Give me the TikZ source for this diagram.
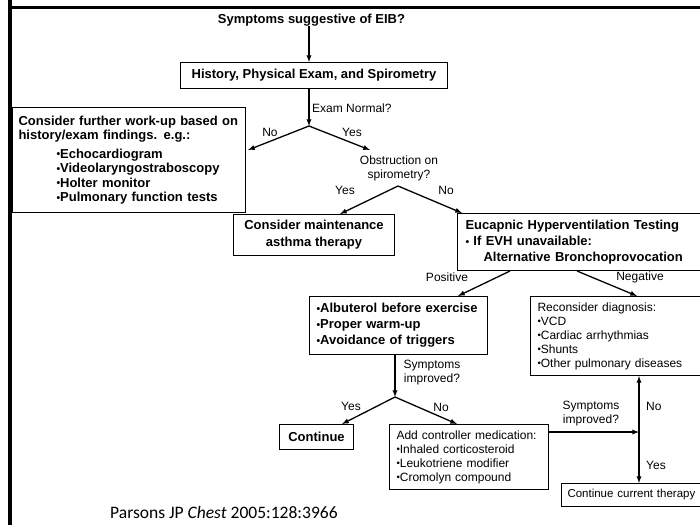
\documentclass[tikz,border=0pt]{standalone}
\usepackage{fontspec}
\setmainfont{Liberation Sans}
\newfontfamily\citefont{Carlito}
\tikzset{>=latex}
\newcommand{\bu}{\raisebox{.05ex}{\scalebox{.8}{\textbullet}}}
\tikzset{
    box/.style={draw, line width=1pt, anchor=north west, align=left, inner xsep=6, inner ysep=0},
    bl/.style={font=\fontsize{13}{16}\selectfont\bfseries},
    rg/.style={font=\fontsize{12}{14}\selectfont},
    lab/.style={font=\fontsize{12}{14}\selectfont, inner sep=0},
    arr/.style={->, line width=1.3pt}
}

\begin{document}
\begin{tikzpicture}[x=1pt, y=-1pt]
    \useasboundingbox (0,0) rectangle (700,525);
    \draw[line width=4](10,0)--(10,525);
    \draw[line width=3](8,7.5)--(700,7.5);
    \node[bl, inner sep=0](sym)at(311.5,20){Symptoms suggestive of EIB?};
    \node[box, bl, align=center, minimum width=267, minimum height=26](hist)at(180,62){History, Physical Exam, and Spirometry};
    \coordinate(b1)at(309,126);
    \draw[arr](b1 |- sym.south)--(b1 |- hist.north);
    \draw[arr](b1 |- hist.south)--(b1);
    \node[lab, anchor=west](exam)at(312,108){Exam Normal?};
    \node[box, bl, font=\fontsize{13}{14.5}\selectfont\bfseries, text width=221, minimum height=105](work)at(12,107){Consider further work-up based on\\history/exam findings. e.g.:\\[4pt]
        \hspace*{38pt}\bu Echocardiogram\\\hspace*{38pt}\bu Videolaryngostraboscopy\\\hspace*{38pt}\bu Holter monitor\\\hspace*{38pt}\bu Pulmonary function tests};
    \coordinate(noW)at(248,150);
    \coordinate(yesE)at(370,150);
    \draw[arr](b1)--(noW);
    \draw[arr](b1)--(yesE);
    \node[lab](no1)at(270,132){No};
    \node[lab](yes1)at(352,132){Yes};
    \node[lab, align=center](obs)at(399,168){Obstruction on\\spirometry?};
    \coordinate(b2)at(398,186);
    \node[box, bl, font=\fontsize{13}{17}\selectfont\bfseries, align=center, minimum width=161, minimum height=41](maint)at(233,214){Consider maintenance\\asthma therapy};
    \node[box, bl, text width=232, minimum height=57, inner xsep=8](evh)at(457,213){Eucapnic Hyperventilation Testing\\\bu{} If EVH unavailable:\\\hspace*{18pt}Alternative Bronchoprovocation};
    \draw[arr](b2)--([xshift=107]maint.north west);
    \draw[arr](b2)--([xshift=5]evh.north west);
    \node[lab](yes2)at(345,190){Yes};
    \node[lab](no2)at(446,190){No};
    \node[box, bl, text width=164, minimum height=58, inner xsep=7](alb)at(309,296){\bu Albuterol before exercise\\\bu Proper warm-up\\\bu Avoidance of triggers};
    \node[box, rg, text width=163, minimum height=79, inner xsep=7](rec)at(530,296){Reconsider diagnosis:\\\bu VCD\\\bu Cardiac arrhythmias\\\bu Shunts\\\bu Other pulmonary diseases};
    \draw[arr]([xshift=53]evh.south west)--([xshift=149]alb.north west);
    \draw[arr]([xshift=120]evh.south west)--([xshift=107]rec.north west);
    \node[lab](pos)at(447,277){Positive};
    \node[lab](neg)at(640,277){Negative};
    \coordinate(b3)at(395,397);
    \draw[arr](b3 |- alb.south)--(b3);
    \node[lab, align=center](imp1)at(432,373){Symptoms\\improved?};
    \node[box, bl, align=center, minimum width=74, minimum height=25](cont)at(279,424){Continue};
    \node[box, rg, text width=145, minimum height=65, inner xsep=7](add)at(389,424){Add controller medication:\\\bu Inhaled corticosteroid\\\bu Leukotriene modifier\\\bu Cromolyn compound};
    \draw[arr](b3)--([xshift=63]cont.north west);
    \draw[arr](b3)--([xshift=68]add.north west);
    \node[lab](yes3)at(351,406){Yes};
    \node[lab](no3)at(441,407){No};
    \node[box, rg, font=\fontsize{11.5}{14}\selectfont, text width=160, minimum height=23, inner xsep=6](cct)at(561,483){Continue current therapy};
    \coordinate(b4)at(639,432);
    \draw[arr](add.east |- b4)--(b4);
    \draw[arr](b4)--(b4 |- rec.south);
    \draw[arr](b4)--(b4 |- cct.north);
    \node[lab, align=center](imp2)at(591,414){Symptoms\\improved?};
    \node[lab, anchor=west](no4)at(646,406){No};
    \node[lab, anchor=west](yes4)at(646,465){Yes};
    \node[anchor=west, inner sep=0, font=\citefont\fontsize{17.5}{19}\selectfont](cite)at(110,512){Parsons JP \textit{Chest} 2005:128:3966};
\end{tikzpicture}
\end{document}
